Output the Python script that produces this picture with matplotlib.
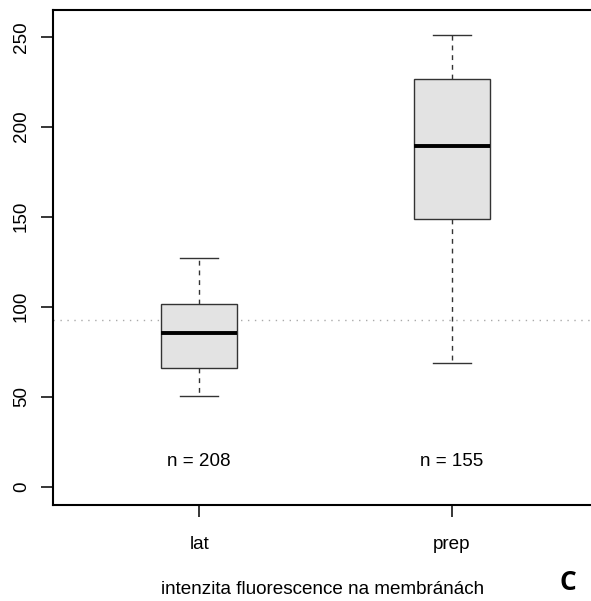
import matplotlib
matplotlib.use("Agg")
import matplotlib.pyplot as plt

# Data
categories = ["lat", "prep"]
whisk_low = [50.4, 68.9]
q1 = [66.1, 148.9]
medians = [85.2, 189.3]
q3 = [101.3, 226.5]
whisk_high = [126.9, 251.1]
n_counts = [208, 155]
ref_level = 92.6
y_ticks = [0, 50, 100, 150, 200, 250]
xlabel = "intenzita fluorescence na membránách"
panel_label = "C"

plt.rcParams['font.family'] = ['Liberation Sans', 'DejaVu Sans']
FS = 13.6

fig = plt.figure(figsize=(5.91, 6.01), dpi=100)
ax = fig.add_axes([52.7/591, 1-505/601, 1-52.7/591+0.004, (505-9.7)/601])

positions = list(range(1, len(categories)+1))
stats = []
for i, c in enumerate(categories):
    stats.append(dict(label=c, whislo=whisk_low[i], q1=q1[i], med=medians[i],
                      q3=q3[i], whishi=whisk_high[i], fliers=[]))

ax.axhline(ref_level, color="#aaaaaa", lw=1.0, ls=(0, (1, 4)), zorder=0)

ax.bxp(stats, positions=positions, widths=0.3, capwidths=0.15, patch_artist=True,
       showfliers=False,
       boxprops=dict(facecolor="#e3e3e3", edgecolor="#333333", lw=1.0),
       medianprops=dict(color="black", lw=2.8, solid_capstyle="butt"),
       whiskerprops=dict(color="#333333", lw=1.0, ls=(0, (3.5, 3.5))),
       capprops=dict(color="#333333", lw=1.0))

for p, n in zip(positions, n_counts):
    ax.text(p, 13.9, f"n = {n}", ha="center", va="center", fontsize=FS)

ax.set_xlim(0.42, 2.56)
ax.set_ylim(-10.2, 265)
ax.set_yticks(y_ticks)
ax.set_yticklabels([str(t) for t in y_ticks], rotation=90, va="center")
ax.set_xticks(positions)
ax.set_xticklabels(categories)
ax.tick_params(axis="both", length=8.5, width=1.1, labelsize=FS)
ax.tick_params(axis="x", pad=13.5)
ax.tick_params(axis="y", pad=8)
for s in ["left", "top", "bottom"]:
    ax.spines[s].set_linewidth(1.5)
ax.spines["right"].set_visible(False)

fig.text(323/591, 1-589/601, xlabel, ha="center", va="center", fontsize=FS)
fig.text(568/591, 1-590/601, panel_label, ha="center", va="baseline", fontsize=19,
         fontweight="bold", family=["Open Sans", "DejaVu Sans"])

fig.savefig("out.png", dpi=100)
